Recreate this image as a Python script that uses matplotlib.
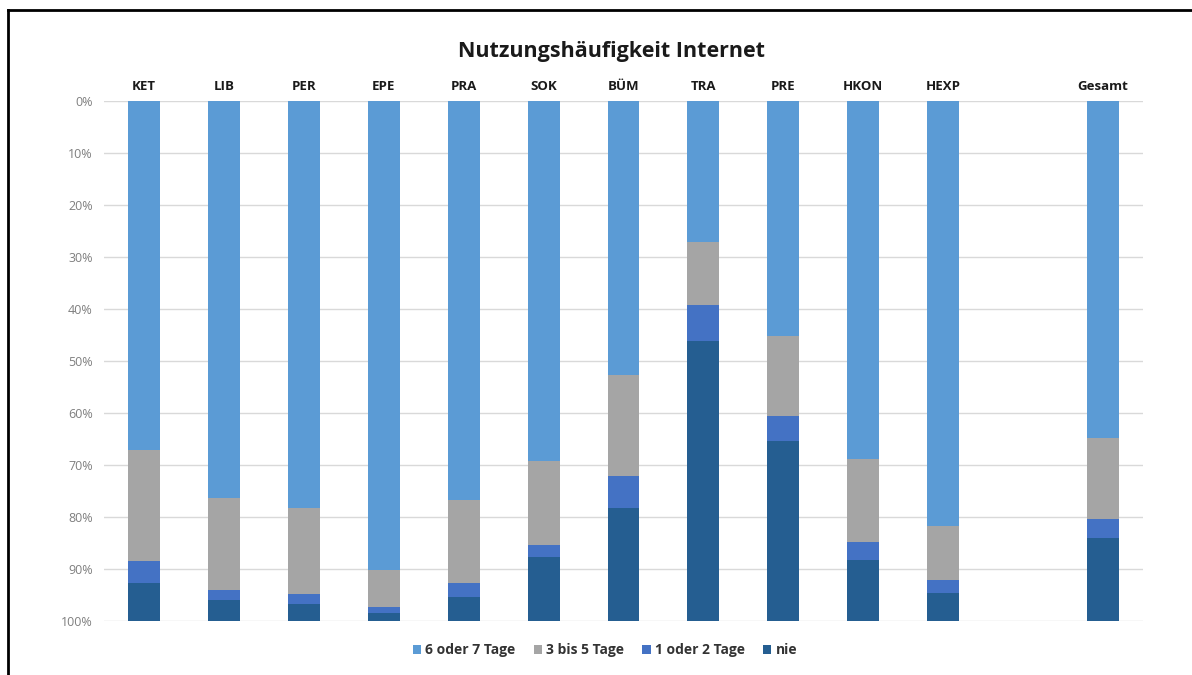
import matplotlib.pyplot as plt
import numpy as np

plt.rcParams['font.family'] = ['Open Sans', 'DejaVu Sans']

categories = ["KET", "LIB", "PER", "EPE", "PRA", "SOK", "BÜM", "TRA", "PRE", "HKON", "HEXP", "", "Gesamt"]
series_names = ["6 oder 7 Tage", "3 bis 5 Tage", "1 oder 2 Tage", "nie"]
# shares in percent, empty slot between HEXP and Gesamt
tage_6_7 = [67.1, 76.3, 78.2, 90.2, 76.7, 69.2, 52.6, 27.2, 45.1, 68.8, 81.7, 0, 64.9]
tage_3_5 = [21.4, 17.8, 16.7, 7.2, 15.9, 16.2, 19.5, 12.0, 15.5, 16.0, 10.5, 0, 15.5]
tage_1_2 = [4.2, 1.9, 1.9, 1.1, 2.7, 2.3, 6.1, 7.0, 4.7, 3.5, 2.4, 0, 3.6]
nie = [7.3, 4.0, 3.2, 1.5, 4.7, 12.3, 21.8, 53.8, 34.7, 11.7, 5.4, 0, 16.0]
colors = ["#5B9BD5", "#A5A5A5", "#4472C4", "#255E91"]

fig = plt.figure(figsize=(11.92, 6.75), dpi=100)
ax = fig.add_axes([104 / 1192, 1 - 621 / 675, (1143 - 104) / 1192, (621 - 101) / 675])

x = np.arange(len(categories))
bottom = np.zeros(len(categories))
for name, vals, col in zip(series_names, [tage_6_7, tage_3_5, tage_1_2, nie], colors):
    vals = np.array(vals)
    ax.bar(x, vals, 0.4, bottom=bottom, color=col, label=name, zorder=2)
    bottom += vals

ax.set_xlim(-0.5, len(categories) - 0.5)
ax.set_ylim(100, 0)
ax.set_yticks(np.arange(0, 101, 10))
ax.set_yticklabels([f"{v}%" for v in range(0, 101, 10)], color="#7F7F7F", fontsize=9)
ax.yaxis.grid(True, color="#D9D9D9", linewidth=1, zorder=0)
ax.tick_params(axis="y", length=0, pad=8)

ax.xaxis.tick_top()
ax.set_xticks(x)
ax.set_xticklabels(categories, fontsize=9.5, fontweight="bold", color="#1A1A1A")
ax.tick_params(axis="x", length=0, pad=6)
for s in ax.spines.values():
    s.set_visible(False)

fig.text(612 / 1192, 1 - 52 / 675, "Nutzungshäufigkeit Internet", ha="center", va="center",
         fontsize=15.5, fontweight="bold", color="#1A1A1A")

ax.legend(loc="center", bbox_to_anchor=((605 - 104) / 1039, (621 - 650) / 520), ncol=4, frameon=False,
          handlelength=0.6, handleheight=0.6, handletextpad=0.3, columnspacing=1.3,
          prop={"size": 10, "weight": "bold"}, labelcolor="#333333")

# frame lines of the screenshot
fig.add_artist(plt.Line2D([8 / 1192, 8 / 1192], [0, 1 - 10 / 675], color="black", lw=2))
fig.add_artist(plt.Line2D([8 / 1192, 1], [1 - 10 / 675, 1 - 10 / 675], color="black", lw=2))

plt.savefig("out.png", dpi=100)
plt.close(fig)
